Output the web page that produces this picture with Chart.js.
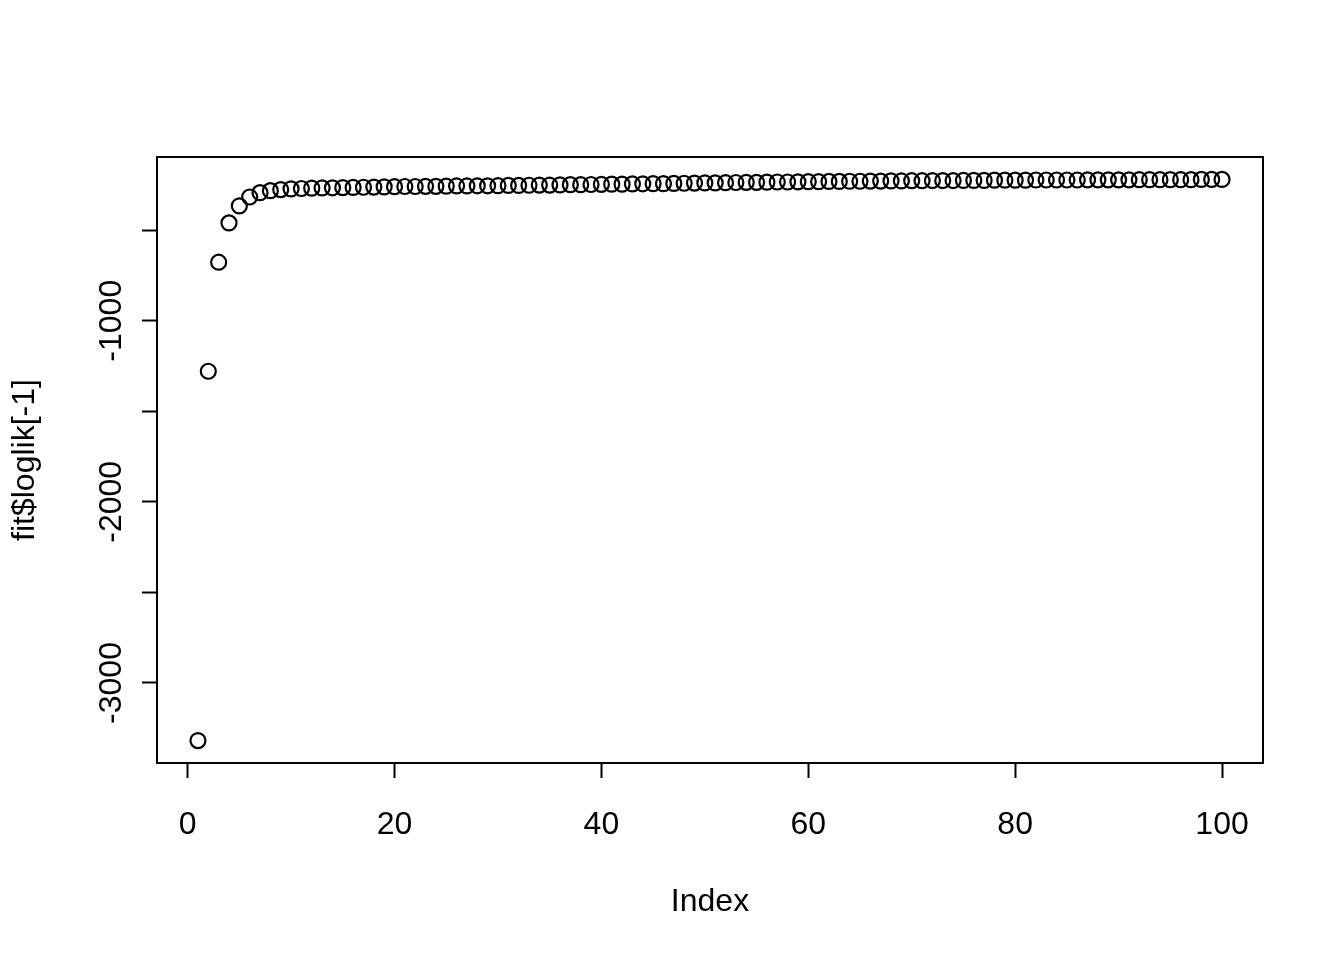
<!DOCTYPE html>
<html>
<head>
<meta charset="utf-8">
<script src="https://cdn.jsdelivr.net/npm/chart.js@4/dist/chart.umd.min.js"></script>
<style>
  html, body { margin: 0; padding: 0; background: #ffffff; }
  #wrap { width: 1344px; height: 960px; }
</style>
</head>
<body>
<div id="wrap"><canvas id="c" width="1344" height="960"></canvas></div>
<script>
const iterations = [
  1,2,3,4,5,6,7,8,9,10,11,12,13,14,15,16,17,18,19,20,
  21,22,23,24,25,26,27,28,29,30,31,32,33,34,35,36,37,38,39,40,
  41,42,43,44,45,46,47,48,49,50,51,52,53,54,55,56,57,58,59,60,
  61,62,63,64,65,66,67,68,69,70,71,72,73,74,75,76,77,78,79,80,
  81,82,83,84,85,86,87,88,89,90,91,92,93,94,95,96,97,98,99,100
];
const loglik = [
  -3318,-1279,-677,-460,-366,-317,-293,-282,-276,-272,
  -270,-268,-267,-266,-265,-264,-263,-262,-261,-260,
  -259,-259,-258,-258,-257,-256,-256,-255,-255,-254,
  -253,-253,-252,-251,-251,-250,-249,-249,-248,-247,
  -246,-246,-245,-244,-243,-243,-242,-241,-240,-239,
  -239,-238,-237,-236,-236,-235,-234,-234,-233,-232,
  -232,-231,-231,-230,-230,-229,-229,-228,-228,-227,
  -227,-226,-226,-226,-225,-225,-225,-224,-224,-224,
  -224,-223,-223,-223,-223,-223,-222,-222,-222,-222,
  -222,-221,-221,-221,-221,-221,-221,-220,-220,-220
];
const xTicks = [0, 20, 40, 60, 80, 100];
const yTicks = [-3000, -2500, -2000, -1500, -1000, -500];
const yTickLabels = ['-3000', '', '-2000', '', '-1000', ''];
const xTitle = 'Index';
const yTitle = 'fit$loglik[-1]';

const FONT = '"Liberation Sans", Arial, Helvetica, sans-serif';

const xmin = Math.min(...iterations), xmax = Math.max(...iterations);
const ymin = Math.min(...loglik), ymax = Math.max(...loglik);
const xpad = (xmax - xmin) * 0.04, ypad = (ymax - ymin) * 0.04;

const boxPlugin = {
  id: 'boxAndLabels',
  afterDraw(chart) {
    const ctx = chart.ctx;
    const a = chart.chartArea;
    ctx.save();
    ctx.strokeStyle = '#000';
    ctx.lineWidth = 2;
    ctx.strokeRect(a.left, a.top, a.right - a.left, a.bottom - a.top);
    const ys = chart.scales.y;
    ctx.fillStyle = '#000';
    ctx.font = '32px ' + FONT;
    ctx.textAlign = 'center';
    ctx.textBaseline = 'middle';
    yTicks.forEach((v, i) => {
      const lab = yTickLabels[i];
      if (!lab) return;
      const py = ys.getPixelForValue(v);
      ctx.save();
      ctx.translate(112, py);
      ctx.rotate(-Math.PI / 2);
      ctx.fillText(lab, 0, 0);
      ctx.restore();
    });
    ctx.restore();
  }
};

new Chart(document.getElementById('c'), {
  type: 'scatter',
  data: {
    datasets: [{
      data: iterations.map((x, i) => ({ x: x, y: loglik[i] })),
      pointStyle: 'circle',
      pointRadius: 7.5,
      pointHoverRadius: 7.5,
      borderWidth: 2.2,
      borderColor: '#000',
      backgroundColor: 'rgba(0,0,0,0)'
    }]
  },
  options: {
    responsive: false,
    animation: false,
    events: [],
    layout: { padding: { top: 157, right: 81, left: 0, bottom: 0 } },
    plugins: { legend: { display: false }, tooltip: { enabled: false } },
    scales: {
      x: {
        type: 'linear',
        min: xmin - xpad,
        max: xmax + xpad,
        afterBuildTicks: s => { s.ticks = xTicks.map(v => ({ value: v })); },
        afterFit: s => { s.height = 197; },
        border: { display: false },
        grid: { drawOnChartArea: false, drawTicks: true, tickLength: 15, tickColor: '#000', tickWidth: 2, offset: false },
        ticks: { color: '#000', font: { family: FONT, size: 32 }, padding: 28, maxRotation: 0, autoSkip: false },
        title: { display: true, text: xTitle, color: '#000', font: { family: FONT, size: 32, lineHeight: 1.2 }, padding: { top: 0, bottom: 39 } }
      },
      y: {
        type: 'linear',
        min: ymin - ypad,
        max: ymax + ypad,
        afterBuildTicks: s => { s.ticks = yTicks.map(v => ({ value: v })); },
        afterFit: s => { s.width = 157; },
        border: { display: false },
        grid: { drawOnChartArea: false, drawTicks: true, tickLength: 15, tickColor: '#000', tickWidth: 2, offset: false },
        ticks: { display: true, callback: () => '', font: { size: 1 } },
        title: { display: true, text: yTitle, color: '#000', font: { family: FONT, size: 32, lineHeight: 1.2 }, padding: { top: 6, bottom: 0 } }
      }
    }
  },
  plugins: [boxPlugin]
});
</script>
</body>
</html>
